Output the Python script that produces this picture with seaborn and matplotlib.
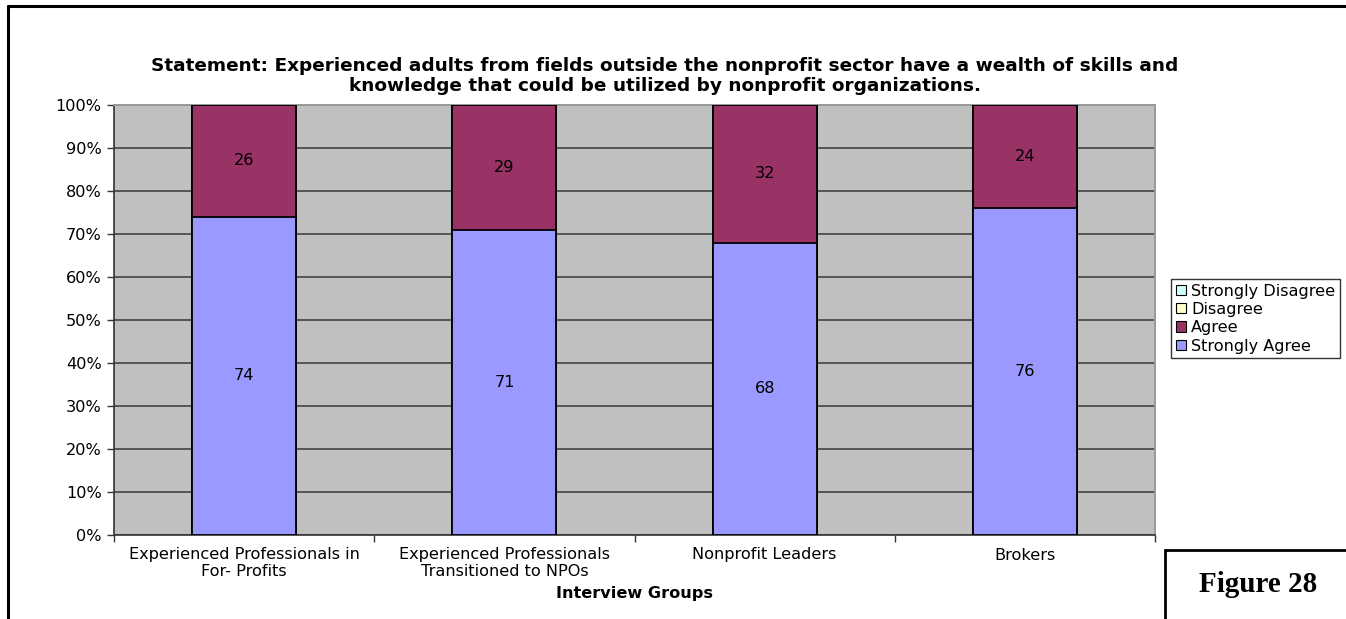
import matplotlib
matplotlib.use("Agg")
import matplotlib.pyplot as plt
from matplotlib.patches import Patch, Rectangle
from matplotlib.lines import Line2D
import numpy as np
import pandas as pd
import seaborn as sns

# Survey responses (percent of respondents) per interview group
groups = [
    "Experienced Professionals in\nFor- Profits",
    "Experienced Professionals\nTransitioned to NPOs",
    "Nonprofit Leaders",
    "Brokers",
]
strongly_agree = [74, 71, 68, 76]
agree = [26, 29, 32, 24]
disagree = [0, 0, 0, 0]
strongly_disagree = [0, 0, 0, 0]

series_names = ["Strongly Agree", "Agree", "Disagree", "Strongly Disagree"]
series_colors = {
    "Strongly Agree": "#9999FF",
    "Agree": "#993366",
    "Disagree": "#FFFFCC",
    "Strongly Disagree": "#CCFFFF",
}

title = ("Statement: Experienced adults from fields outside the nonprofit sector have a wealth of skills and\n"
         "knowledge that could be utilized by nonprofit organizations.")

df = pd.DataFrame({
    "group": groups,
    "Strongly Agree": strongly_agree,
    "Agree": agree,
    "Disagree": disagree,
    "Strongly Disagree": strongly_disagree,
})

sns.set_theme(style="white")
plt.rcParams["font.family"] = ["DejaVu Sans"]
plt.rcParams["text.color"] = "black"
plt.rcParams["axes.labelcolor"] = "black"
plt.rcParams["xtick.color"] = "black"
plt.rcParams["ytick.color"] = "black"
FS = 11.6

fig = plt.figure(figsize=(13.46, 6.19), dpi=100)
ax = fig.add_axes([114 / 1346, 1 - 535 / 619, (1155 - 114) / 1346, (535 - 105) / 619])
ax.set_facecolor("#C0C0C0")

# Stacked layers: draw cumulative totals from the top segment down
cum = np.zeros(len(groups))
cums = []
for name in series_names:
    cum = cum + df[name].to_numpy()
    cums.append(cum.copy())

for name, top in reversed(list(zip(series_names, cums))):
    plot_df = pd.DataFrame({"group": groups, "value": top})
    sns.barplot(data=plot_df, x="group", y="value", color=series_colors[name],
                saturation=1, width=0.4, edgecolor="black", linewidth=1.3,
                ax=ax, zorder=3, errorbar=None)

# Value labels centred in each visible segment
bottom = np.zeros(len(groups))
for name in series_names:
    vals = df[name].to_numpy()
    for i, v in enumerate(vals):
        if v > 0:
            ax.text(i, bottom[i] + v / 2, f"{v:g}", ha="center", va="center",
                    fontsize=FS, color="black", zorder=5)
    bottom = bottom + vals

ax.set_ylim(0, 100)
ax.set_xlim(-0.5, len(groups) - 0.5)
ax.set_yticks(np.arange(0, 101, 10))
ax.set_yticklabels([f"{t}%" for t in range(0, 101, 10)], fontsize=FS)
ax.set_xticks(range(len(groups)))
ax.set_xticklabels(groups, fontsize=FS, linespacing=1.1)
ax.set_xticks(np.arange(-0.5, len(groups), 1), minor=True)
ax.tick_params(axis="x", which="major", length=0, pad=9)
ax.tick_params(axis="x", which="minor", length=5, width=1, color="#333333", direction="out", bottom=True)
ax.tick_params(axis="y", which="major", length=5, width=1, color="#333333", direction="out", left=True, pad=4)

ax.yaxis.grid(True, color="#555555", linewidth=1.4, zorder=1)
ax.set_axisbelow(True)
ax.set_ylabel("")
ax.set_xlabel("Interview Groups", fontsize=FS, fontweight="bold", labelpad=5)

for side in ["left", "bottom"]:
    ax.spines[side].set_color("#333333")
    ax.spines[side].set_linewidth(1.2)
for side in ["right", "top"]:
    ax.spines[side].set_color("#999999")
    ax.spines[side].set_linewidth(1.4)

# Legend: top entry first
handles = [Patch(facecolor=series_colors[n], edgecolor="black", linewidth=0.8, label=n)
           for n in reversed(series_names)]
leg = fig.legend(handles=handles, loc="upper left",
                 bbox_to_anchor=(1171 / 1346, 1 - 279 / 619),
                 frameon=True, fancybox=False, fontsize=FS,
                 handlelength=0.6, handleheight=0.6, handletextpad=0.35,
                 labelspacing=0.2, borderpad=0.3, borderaxespad=0)
leg.get_frame().set_edgecolor("black")
leg.get_frame().set_linewidth(1.0)

fig.text(665 / 1346, 1 - 76 / 619, title, ha="center", va="center",
         fontsize=13.3, fontweight="bold", linespacing=1.15)

# Page frame lines and figure caption box
fig.add_artist(Line2D([8 / 1346, 8 / 1346], [0, 1 - 6 / 619], color="black", lw=2.2,
                      transform=fig.transFigure))
fig.add_artist(Line2D([8 / 1346, 1], [1 - 6 / 619, 1 - 6 / 619], color="black", lw=2.2,
                      transform=fig.transFigure))
fig.add_artist(Rectangle((1165 / 1346, -0.05), 0.2, 0.05 + (619 - 550) / 619,
                         facecolor="white", edgecolor="black", lw=2,
                         transform=fig.transFigure))
fig.text(1258 / 1346, 1 - 584 / 619, "Figure 28", ha="center", va="center",
         fontsize=21, fontweight="bold", family=["Liberation Serif", "DejaVu Serif"])

fig.savefig("out.png", dpi=100)
